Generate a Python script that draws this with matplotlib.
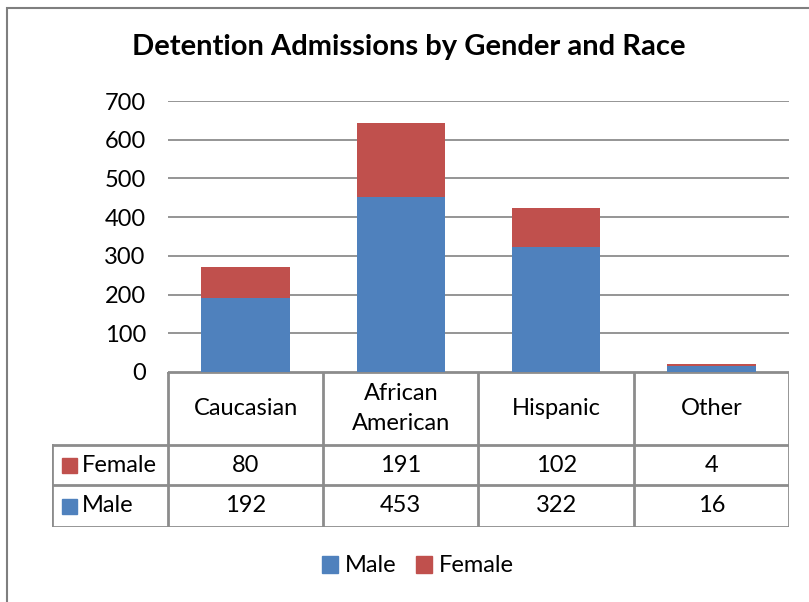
import matplotlib
matplotlib.use("Agg")
import matplotlib.pyplot as plt
from matplotlib.patches import Rectangle, Patch

# data
categories = ["Caucasian", "African\nAmerican", "Hispanic", "Other"]
male = [192, 453, 322, 16]
female = [80, 191, 102, 4]
yticks = [0, 100, 200, 300, 400, 500, 600, 700]

BLUE = "#4F81BD"
RED = "#C0504D"
GRID = "#8C8C8C"
FS = 17

plt.rcParams["font.family"] = ["Lato", "DejaVu Sans"]

W, H = 809, 602
fig = plt.figure(figsize=(W / 100, H / 100), dpi=100)

# outer chart frame
fig.patches.append(Rectangle((7 / W, -0.1), 1.1, 1 - 8 / H + 0.1, transform=fig.transFigure,
                             fill=False, edgecolor="#7F7F7F", linewidth=1.5))

# plot area (pixel box)
x0, x1, ytop, ybot = 168, 789, 101, 372
ax = fig.add_axes([x0 / W, 1 - ybot / H, (x1 - x0) / W, (ybot - ytop) / H])
x = list(range(len(categories)))
ax.bar(x, male, width=0.57, color=BLUE, zorder=3)
ax.bar(x, female, width=0.57, bottom=male, color=RED, zorder=3)
ax.set_xlim(-0.5, len(categories) - 0.5)
ax.set_ylim(0, 700)
ax.set_yticks(yticks)
ax.set_yticklabels([str(v) for v in yticks], fontsize=FS)
ax.tick_params(axis="y", length=0, pad=16)
ax.set_xticks([])
for s in ax.spines.values():
    s.set_visible(False)
ax.grid(axis="y", color=GRID, linewidth=1.3, zorder=0)
ax.set_axisbelow(True)

fig.text(409 / W, 1 - 47 / H, "Detention Admissions by Gender and Race",
         ha="center", va="center", fontsize=21, fontweight="bold")

# data table below the plot
unit = (x1 - x0) / len(categories)
lab_w = (x0 - 52) / unit
rows = [372, 445, 485, 527]
tab = fig.add_axes([52 / W, 1 - rows[-1] / H, (x1 - 52) / W, (rows[-1] - rows[0]) / H])
tab.set_xlim(-0.5 - lab_w, len(categories) - 0.5)
tab.set_ylim(rows[-1], rows[0])
tab.axis("off")
lk = dict(color=GRID, linewidth=2, solid_capstyle="projecting")
left = -0.5 - lab_w
right = len(categories) - 0.5
tab.plot([-0.5, right], [rows[0]] * 2, **lk)
for r in rows[1:]:
    tab.plot([left, right], [r, r], **lk)
tab.plot([left, left], [rows[1], rows[-1]], **lk)
for i in range(len(categories) + 1):
    tab.plot([i - 0.5] * 2, [rows[0], rows[-1]], **lk)

for i, c in enumerate(categories):
    tab.text(i, (rows[0] + rows[1]) / 2, c, ha="center", va="center",
             fontsize=FS, linespacing=1.55)
    tab.text(i, (rows[1] + rows[2]) / 2, str(female[i]), ha="center", va="center", fontsize=FS)
    tab.text(i, (rows[2] + rows[3]) / 2, str(male[i]), ha="center", va="center", fontsize=FS)

sq = 15 / unit
for (name, col), (ra, rb) in zip([("Female", RED), ("Male", BLUE)],
                                 [(rows[1], rows[2]), (rows[2], rows[3])]):
    mid = (ra + rb) / 2
    tab.add_patch(Rectangle((left + 10 / unit, mid - 7.5), sq, 15, color=col, clip_on=False))
    tab.text(left + 30 / unit, mid, name, ha="left", va="center", fontsize=FS)

handles = [Patch(color=BLUE, label="Male"), Patch(color=RED, label="Female")]
fig.legend(handles=handles, loc="center", bbox_to_anchor=(418 / W, 1 - 566 / H), ncol=2,
           frameon=False, fontsize=FS, handlelength=0.7, handleheight=0.7,
           handletextpad=0.3, columnspacing=0.8)

fig.savefig("out.png", dpi=100)
